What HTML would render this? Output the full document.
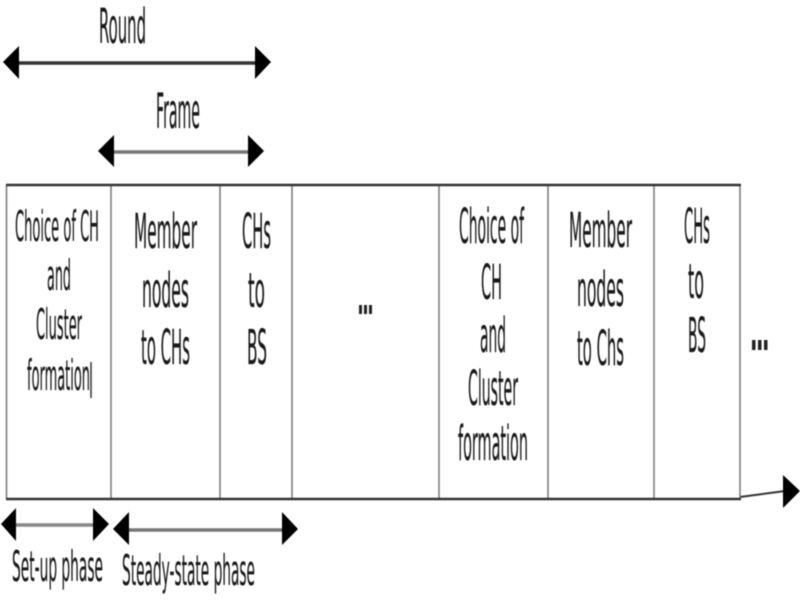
<!DOCTYPE html>
<html><head><meta charset="utf-8"><style>
html,body{margin:0;padding:0;background:#fff;width:800px;height:600px;overflow:hidden}
svg{display:block;filter:blur(.45px)}
text{font-family:"DejaVu Sans","Liberation Sans",sans-serif;fill:#1a1a1a;stroke:#1a1a1a;stroke-width:.2px}
</style></head><body>
<svg width="800" height="600" viewBox="0 0 800 600" xmlns="http://www.w3.org/2000/svg">
<g stroke="#333" stroke-width="3.5" fill="none">
<line x1="18" y1="63" x2="256" y2="63"/>
<line x1="113" y1="152" x2="248" y2="152" stroke="#777"/>
<line x1="16" y1="525" x2="93" y2="525" stroke="#888"/>
<line x1="128" y1="530" x2="282" y2="530" stroke="#777"/>
<path d="M740 497 L785 491" stroke-width="2"/>
</g>
<g fill="#000">
<polygon points="3,62 19,46 19,79"/><polygon points="255,46 271,62 255,79"/>
<polygon points="98,151 114,135 114,167"/><polygon points="248,135 264,151 248,167"/>
<polygon points="1,524 16,508 16,541"/><polygon points="93,508 109,524 93,541"/>
<polygon points="113,529 129,512 129,545"/><polygon points="282,512 298,529 282,545"/>
<polygon points="783,475 800,491 783,508"/>
</g>
<g stroke="#777" stroke-width="1.5" fill="none">
<line x1="6.5" y1="185" x2="6.5" y2="498"/>
<line x1="111" y1="185" x2="111" y2="498"/>
<line x1="220" y1="185" x2="220" y2="498"/>
<line x1="292" y1="185" x2="292" y2="498"/>
<line x1="439" y1="185" x2="439" y2="498"/>
<line x1="548" y1="185" x2="548" y2="498"/>
<line x1="654" y1="185" x2="654" y2="498"/>
<line x1="740" y1="185" x2="740" y2="498"/>
<line x1="91" y1="362" x2="91" y2="398" stroke="#333"/>
</g>
<g stroke="#333" stroke-width="2.5"><line x1="6" y1="185" x2="741" y2="185"/><line x1="6" y1="499" x2="741" y2="499"/></g>
<g font-size="48">
<text x="99" y="43" textLength="47" lengthAdjust="spacingAndGlyphs">Round</text>
<text x="156" y="128" textLength="44" lengthAdjust="spacingAndGlyphs">Frame</text>
<text x="134" y="248" textLength="63" lengthAdjust="spacingAndGlyphs">Member</text>
<text x="142" y="307" textLength="47" lengthAdjust="spacingAndGlyphs">nodes</text>
<text x="141" y="364" textLength="49" lengthAdjust="spacingAndGlyphs">to CHs</text>
<text x="242" y="248" textLength="29" lengthAdjust="spacingAndGlyphs">CHs</text>
<text x="248" y="307" textLength="17" lengthAdjust="spacingAndGlyphs">to</text>
<text x="247" y="364" textLength="20" lengthAdjust="spacingAndGlyphs">BS</text>
<text x="569" y="247" textLength="63" lengthAdjust="spacingAndGlyphs">Member</text>
<text x="577" y="306" textLength="47" lengthAdjust="spacingAndGlyphs">nodes</text>
<text x="577" y="365" textLength="47" lengthAdjust="spacingAndGlyphs">to Chs</text>
<text x="684" y="243" textLength="26" lengthAdjust="spacingAndGlyphs">CHs</text>
<text x="688" y="298" textLength="16" lengthAdjust="spacingAndGlyphs">to</text>
<text x="688" y="352" textLength="18" lengthAdjust="spacingAndGlyphs">BS</text>
<text x="459" y="243" textLength="65" lengthAdjust="spacingAndGlyphs">Choice of</text>
<text x="481" y="299" textLength="21" lengthAdjust="spacingAndGlyphs">CH</text>
<text x="480" y="352" textLength="26" lengthAdjust="spacingAndGlyphs">and</text>
<text x="468" y="405" textLength="50" lengthAdjust="spacingAndGlyphs">Cluster</text>
<text x="458" y="460" textLength="70" lengthAdjust="spacingAndGlyphs">formation</text>
</g>
<g font-size="42">
<text x="15" y="241" textLength="84" lengthAdjust="spacingAndGlyphs">Choice of CH</text>
<text x="47" y="290" textLength="24" lengthAdjust="spacingAndGlyphs">and</text>
<text x="36" y="339" textLength="46" lengthAdjust="spacingAndGlyphs">Cluster</text>
<text x="27" y="390" textLength="63" lengthAdjust="spacingAndGlyphs">formation</text>
<text x="12" y="581" textLength="91" lengthAdjust="spacingAndGlyphs">Set-up phase</text>
<text x="122" y="585" textLength="133" lengthAdjust="spacingAndGlyphs">Steady-state phase</text>
</g>
<g fill="#222">
<rect x="359" y="305" width="3" height="9"/><rect x="364" y="305" width="3" height="9"/><rect x="369" y="305" width="3" height="9"/>
<rect x="752" y="340" width="3.5" height="10"/><rect x="758" y="340" width="3.5" height="10"/><rect x="764" y="340" width="3.5" height="10"/>
</g>
</svg>
</body></html>
